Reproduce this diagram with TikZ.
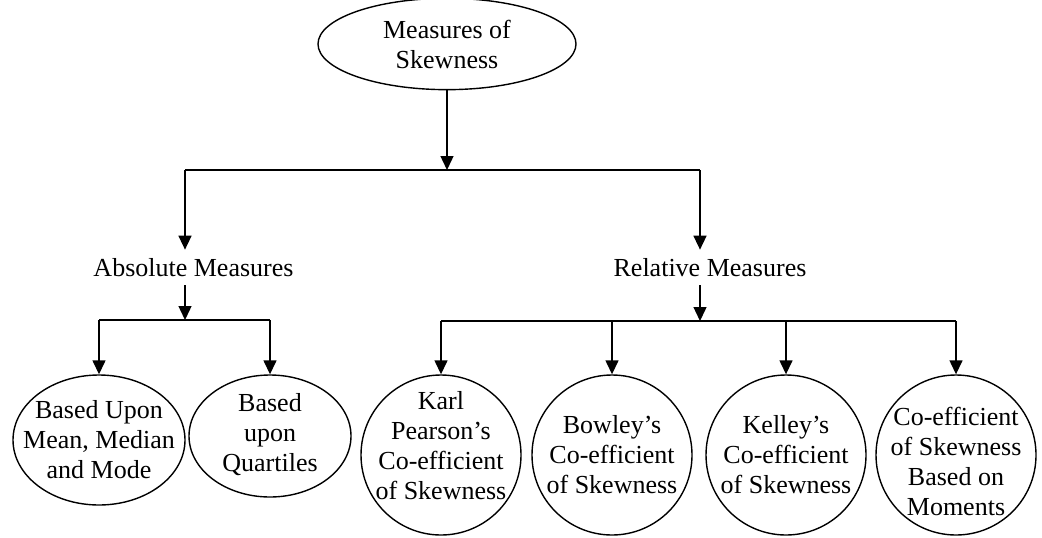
\documentclass[tikz,border=0pt]{standalone}
\usepackage{fontspec}
\setmainfont{Liberation Serif}
\usepackage{tikz}
\usetikzlibrary{arrows.meta,shapes.geometric}

\begin{document}
\begin{tikzpicture}[x=0.5pt, y=0.5pt, line width=0.7pt,
        txt/.style={font=\fontsize{13}{15}\selectfont, align=center, inner sep=4pt},
        oval/.style={draw, ellipse, inner sep=0pt},
        ring/.style={draw, circle, inner sep=0pt, minimum size=80pt},
        arr/.style={-{Triangle[length=7pt, width=6.5pt]}}]
        \useasboundingbox (0, 0) rectangle (1042, 537);
        \node[oval, txt, minimum width=129pt, minimum height=40pt] (top) at (447, 493)
        {Measures of\\Skewness};
        \node[txt] (absm) at (193.5, 269.5) {Absolute Measures};
        \node[txt] (relm) at (710, 269.5) {Relative Measures};
        \node[oval, minimum width=86pt, minimum height=65pt] (bum) at (99, 97) {};
        \node[oval, minimum width=81pt, minimum height=61pt] (buq) at (270, 101) {};
        \node[ring] (kp) at (441, 82) {};
        \node[ring] (bw) at (612, 82) {};
        \node[ring] (kl) at (786, 82) {};
        \node[ring] (mo) at (956, 82) {};
        \node[txt] at (bum) {Based Upon\\Mean, Median\\and Mode};
        \node[txt] at ([yshift=0.5pt]buq) {Based\\upon\\Quartiles};
        \node[txt] at ([yshift=4.5pt]kp) {Karl\\Pearson's\\Co-efficient\\of Skewness};
        \node[txt] at (bw) {Bowley's\\Co-efficient\\of Skewness};
        \node[txt] at (kl) {Kelley's\\Co-efficient\\of Skewness};
        \node[txt] at ([yshift=-3pt]mo) {Co-efficient\\of Skewness\\Based on\\Moments};
        \coordinate (ja) at (185, 367);
        \coordinate (jr) at (700, 367);
        \coordinate (la) at (99, 217);
        \coordinate (lb) at (270, 217);
        \coordinate (ra) at (441, 216);
        \coordinate (rb) at (956, 216);
        \draw[arr] (top.south) -- (top.south |- ja);
        \draw (ja) -- (jr);
        \draw[arr] (ja) -- (ja |- absm.north);
        \draw[arr] (jr) -- (jr |- relm.north);
        \draw[arr] (ja |- absm.south) -- (ja |- la);
        \draw (la) -- (lb);
        \draw[arr] (la) -- (bum.north);
        \draw[arr] (lb) -- (buq.north);
        \draw[arr] (jr |- relm.south) -- (jr |- ra);
        \draw (ra) -- (rb);
        \foreach \n in {kp, bw, kl, mo}
        \draw[arr] (\n.north |- ra) -- (\n.north);
      \end{tikzpicture}
\end{document}
